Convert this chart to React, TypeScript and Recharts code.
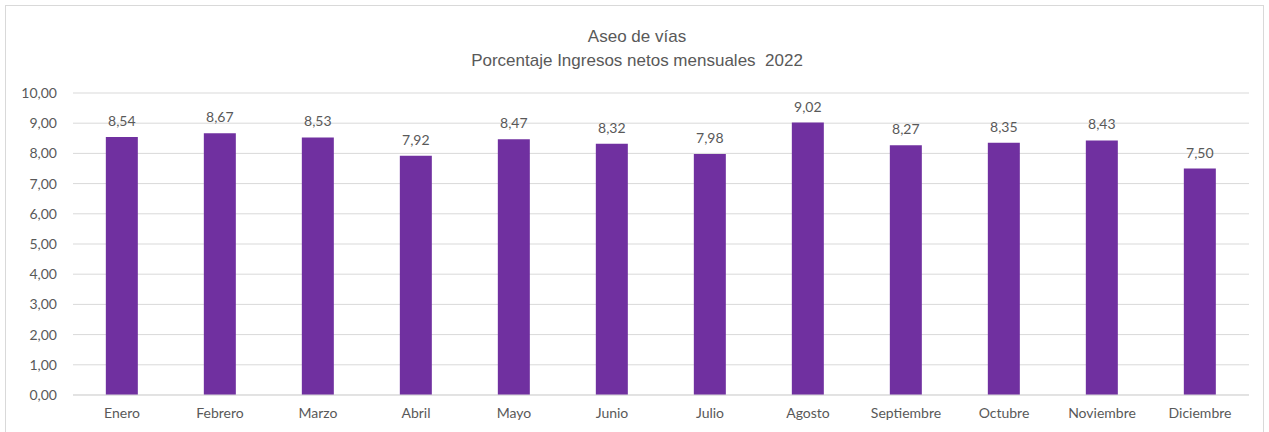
import React from "react"
import { BarChart, Bar, XAxis, YAxis, CartesianGrid, LabelList } from "recharts"

const meses = [
  "Enero",
  "Febrero",
  "Marzo",
  "Abril",
  "Mayo",
  "Junio",
  "Julio",
  "Agosto",
  "Septiembre",
  "Octubre",
  "Noviembre",
  "Diciembre",
]
const porcentajes = [8.54, 8.67, 8.53, 7.92, 8.47, 8.32, 7.98, 9.02, 8.27, 8.35, 8.43, 7.5]
const yTicks = [0, 1, 2, 3, 4, 5, 6, 7, 8, 9, 10]

const data = meses.map((mes, i) => ({ mes, valor: porcentajes[i] }))

const fmt = (v: number) => Number(v).toFixed(2).replace(".", ",")

const FONT = "Lato, 'Open Sans', sans-serif"
const TITLE_FONT = "'Liberation Sans Narrow', 'Liberation Sans', Arial, sans-serif"

export default function App() {
  return (
    <div style={{ position: "absolute", left: 0, top: 0, width: 1269, height: 432, overflow: "hidden", background: "#fff" }}>
      <div
        style={{
          position: "absolute",
          left: 5,
          top: 5,
          width: 1259,
          height: 440,
          border: "1px solid #d9d9d9",
          boxSizing: "border-box",
        }}
      />
      <div
        style={{
          position: "absolute",
          left: 0,
          top: 25,
          width: 1274,
          textAlign: "center",
          fontFamily: TITLE_FONT,
          fontSize: 17,
          lineHeight: "24px",
          color: "#595959",
        }}
      >
        <div>Aseo de vías</div>
        <div>Porcentaje Ingresos netos mensuales&nbsp; 2022</div>
      </div>
      <div style={{ position: "absolute", left: 0, top: 0 }}>
        <BarChart
          width={1269}
          height={432}
          data={data}
          margin={{ top: 93, right: 20, bottom: 7, left: 3 }}
          barCategoryGap="33.5%"
        >
          <CartesianGrid vertical={false} stroke="#d9d9d9" strokeWidth={1} />
          <XAxis
            dataKey="mes"
            axisLine={{ stroke: "#d9d9d9" }}
            tickLine={false}
            height={30}
            tick={{ fill: "#595959", fontSize: 14, fontFamily: FONT }}
            tickMargin={7}
            interval={0}
          />
          <YAxis
            domain={[0, 10]}
            ticks={yTicks}
            axisLine={false}
            tickLine={false}
            width={70}
            tickFormatter={fmt}
            tick={{ fill: "#595959", fontSize: 14, fontFamily: FONT }}
            tickMargin={10}
          />
          <Bar dataKey="valor" fill="#7030A0" isAnimationActive={false}>
            <LabelList
              dataKey="valor"
              position="top"
              offset={11}
              formatter={(v: any) => fmt(v)}
              style={{ fill: "#595959", fontSize: 14, fontFamily: FONT }}
            />
          </Bar>
        </BarChart>
      </div>
    </div>
  )
}
